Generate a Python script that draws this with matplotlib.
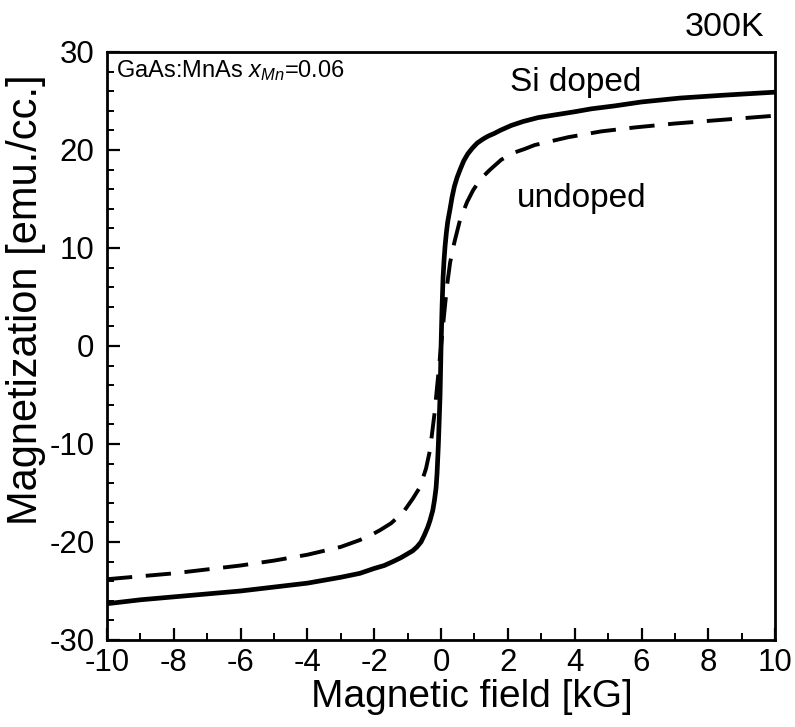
import matplotlib
matplotlib.use("Agg")
import matplotlib.pyplot as plt
from matplotlib.ticker import MultipleLocator

plt.rcParams['font.family'] = ['Liberation Sans', 'DejaVu Sans']
plt.rcParams['mathtext.fontset'] = 'custom'
plt.rcParams['mathtext.it'] = 'Liberation Sans:italic'
plt.rcParams['mathtext.rm'] = 'Liberation Sans'
plt.rcParams['axes.unicode_minus'] = False

# Si doped (solid)
si_field = [-10, -9, -8, -7, -6, -5, -4, -3, -2.43, -2.0, -1.7, -1.44, -1.2, -1.0, -0.85,
            -0.72, -0.6, -0.5, -0.4, -0.33, -0.25, -0.2, -0.15, -0.12, -0.08, -0.03, 0.0,
            0.03, 0.06, 0.09, 0.12, 0.16, 0.2, 0.27, 0.33, 0.4, 0.48, 0.57, 0.68, 0.8, 0.94,
            1.08, 1.25, 1.4, 1.6, 1.77, 2.1, 2.45, 2.9, 3.26, 4.0, 4.5, 5.2, 6, 7.16, 8.5, 10]
si_mag = [-26.3, -25.9, -25.6, -25.3, -25.0, -24.6, -24.2, -23.6, -23.2, -22.7, -22.4,
          -22.0, -21.6, -21.2, -20.9, -20.5, -20.0, -19.3, -18.5, -17.8, -16.8, -15.8, -14.5,
          -13.0, -10.0, -5.0, 0.0, 4.0, 7.0, 8.8, 10.2, 11.6, 12.7, 14.0, 15.2, 16.3, 17.2,
          18.0, 18.9, 19.6, 20.2, 20.7, 21.1, 21.4, 21.7, 22.0, 22.5, 22.9, 23.3, 23.5, 23.9,
          24.2, 24.5, 24.9, 25.3, 25.6, 25.9]

# undoped (dashed)
un_field = [-10, -9, -8, -7, -6, -5, -4, -3, -2.43, -2.1, -1.83, -1.5, -1.14, -0.85, -0.63,
            -0.45, -0.33, -0.2, -0.1, 0.0, 0.1, 0.18, 0.27, 0.4, 0.57, 0.78, 0.96, 1.2, 1.47,
            1.8, 2.16, 2.5, 2.8, 3.3, 3.8, 4.8, 5.8, 7, 8.5, 10]
un_mag = [-23.8, -23.5, -23.2, -22.8, -22.4, -21.9, -21.3, -20.5, -19.8, -19.3, -18.8,
          -18.1, -17.0, -15.6, -14.4, -12.5, -10.6, -7.0, -3.5, 0.0, 3.5, 6.2, 8.5, 10.6,
          12.9, 14.7, 15.9, 17.1, 18.0, 19.0, 19.7, 20.1, 20.5, 20.9, 21.3, 21.9, 22.3, 22.7,
          23.1, 23.5]

xticks = [-10, -8, -6, -4, -2, 0, 2, 4, 6, 8, 10]
yticks = [-30, -20, -10, 0, 10, 20, 30]

fig = plt.figure(figsize=(7.95, 7.27), dpi=100)
ax = fig.add_axes([0.1346, 0.1197, 0.8404, 0.8088])

ax.plot(si_field, si_mag, color='black', lw=3.4, solid_capstyle='butt',
        solid_joinstyle='round')
ax.plot(un_field, un_mag, color='black', lw=2.8, linestyle=(0, (6.5, 3.5)))

ax.set_xlim(-10, 10)
ax.set_ylim(-30, 30)
ax.set_xticks(xticks)
ax.set_yticks(yticks)
ax.xaxis.set_minor_locator(MultipleLocator(1))
ax.yaxis.set_minor_locator(MultipleLocator(2))
ax.tick_params(which='major', direction='in', length=9, width=1.6, labelsize=22.5, pad=6,
               top=False, right=False)
ax.tick_params(which='minor', direction='in', length=5, width=1.4, top=False, right=False)
ax.tick_params(axis='y', pad=9)
for s in ax.spines.values():
    s.set_linewidth(2.0)

ax.set_xlabel('Magnetic field [kG]', fontsize=28)
ax.set_ylabel('Magnetization [emu./cc.]', fontsize=30)
ax.xaxis.set_label_coords(0.546, -0.066)
ax.yaxis.set_label_coords(-0.092, 0.578)

ax.text(0.013, 0.957, r'GaAs:MnAs $x_{Mn}$=0.06', transform=ax.transAxes,
        fontsize=17, ha='left', va='baseline')
fig.text(0.962, 0.950, '300K', fontsize=24.5, ha='right', va='baseline')
ax.text(4.04, 26.0, 'Si doped', fontsize=24, ha='center', va='baseline')
ax.text(4.22, 14.2, 'undoped', fontsize=24, ha='center', va='baseline')

fig.savefig('out.png', dpi=100)
